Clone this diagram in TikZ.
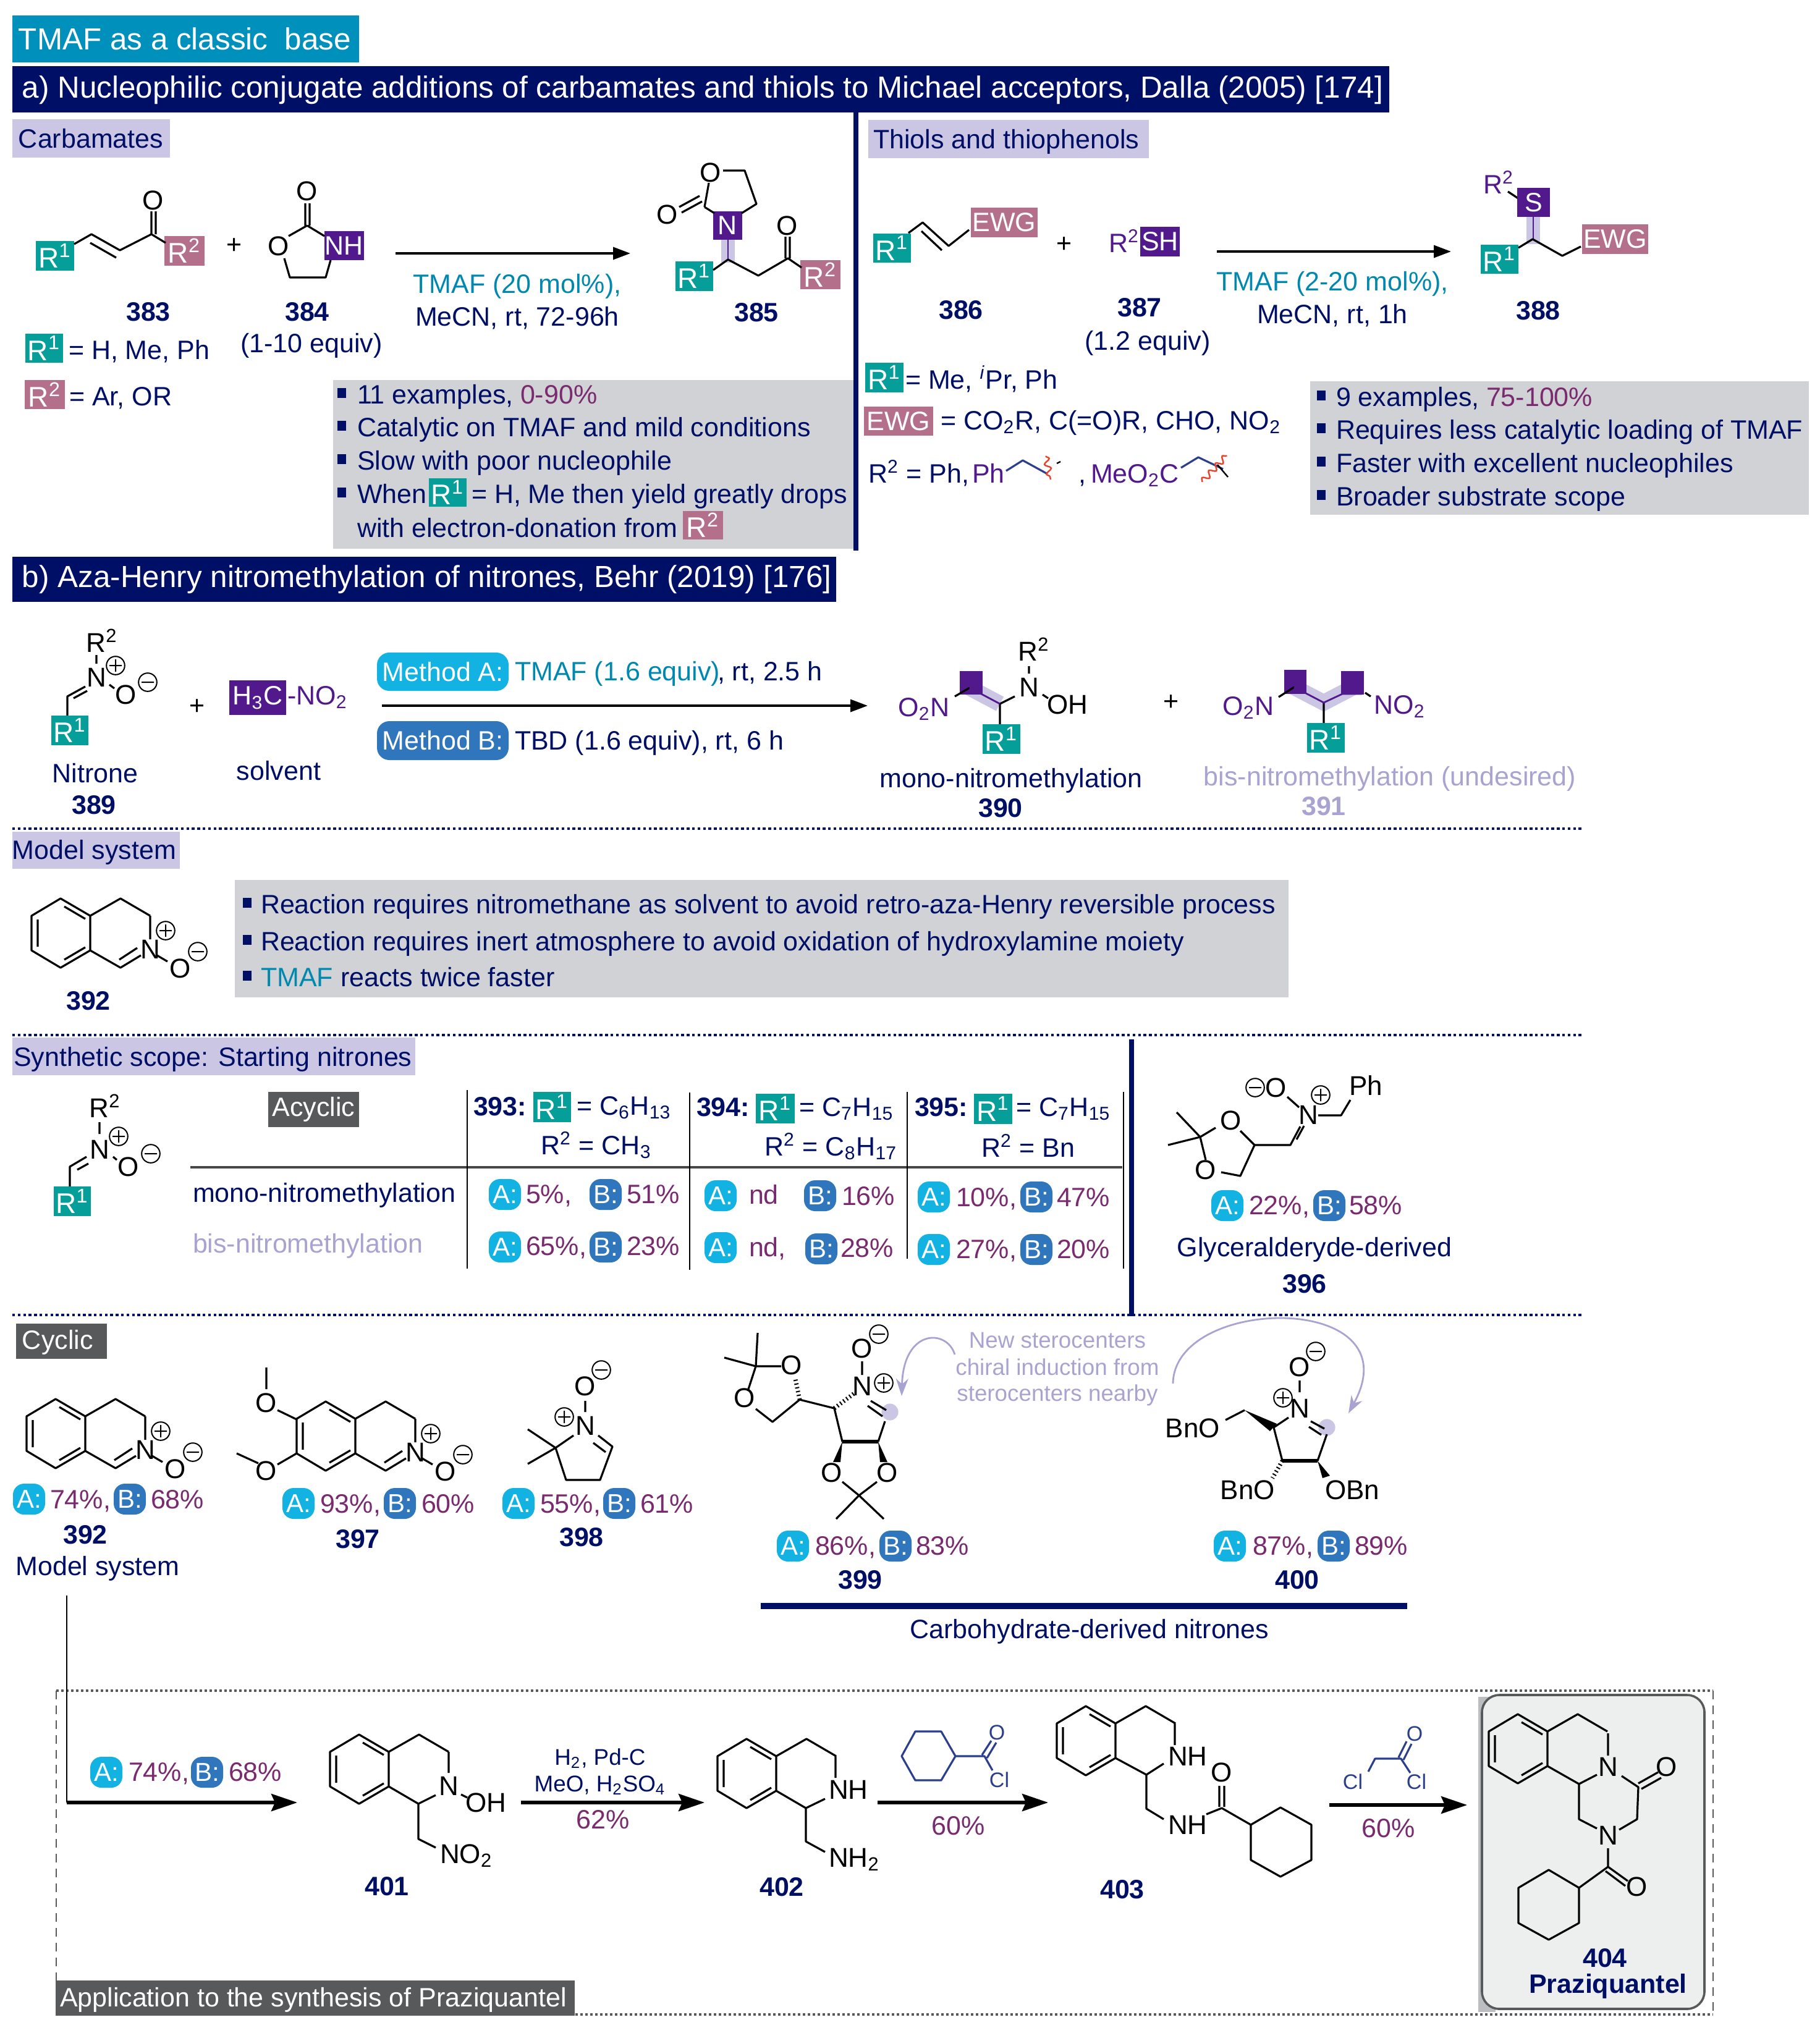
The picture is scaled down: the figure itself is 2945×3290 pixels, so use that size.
\documentclass[tikz,border=0pt]{standalone}
\usepackage{fontspec}
\setmainfont{Liberation Sans}
\usetikzlibrary{arrows.meta,decorations.pathmorphing}
\definecolor{nv}{HTML}{000F66}
\definecolor{tl}{HTML}{069E98}
\definecolor{mv}{HTML}{B4708A}
\definecolor{pu}{HTML}{51198C}
\definecolor{lv}{HTML}{CBC6E3}
\definecolor{gb}{HTML}{D0D2D5}
\definecolor{cyt}{HTML}{0090BC}
\definecolor{pa}{HTML}{12B2E2}
\definecolor{pb}{HTML}{2F76BC}
\definecolor{tm}{HTML}{0088AE}
\definecolor{yl}{HTML}{7A2A6E}
\definecolor{lb}{HTML}{A9A3D2}
\definecolor{dg}{HTML}{58595B}
\definecolor{bxg}{HTML}{EDEFEF}
\definecolor{rg}{HTML}{2B3F8C}
\definecolor{wv}{HTML}{E8432A}
\newcommand\ft{\fontsize{10.75pt}{13pt}\selectfont}
\newcommand\fa{\fontsize{11pt}{13pt}\selectfont}
\newcommand\fh{\fontsize{12.35pt}{14pt}\selectfont}
\newcommand\fb{\fontsize{10.75pt}{13pt}\selectfont\bfseries}
\newcommand\fs{\fontsize{8.5pt}{10pt}\selectfont}
\newcommand\fc{\fontsize{9.2pt}{11pt}\selectfont}
\newcounter{nn}
\tikzset{
 lab/.style={inner sep=0pt,outer sep=0pt,anchor=base,font=\ft,text=nv},
 wst/.style={anchor=base west},
 est/.style={anchor=base east},
 num/.style={font=\fb},
 atm/.style={text=black,font=\fa},
 tag/.style={inner sep=0pt,outer sep=0pt,text=white,font=\ft},
 bond/.style={line width=0.8pt,black,line join=round},
 rbond/.style={line width=0.8pt,rg,line join=round},
 rxn/.style={line width=0.9pt,black,-{Triangle[length=7pt,width=5pt]}},
 bigrxn/.style={line width=1.3pt,black,-{Stealth[length=10.5pt,width=7pt,inset=1.5pt]}},
 dotl/.style={line width=1pt,nv,dash pattern=on 1.1pt off 1.1pt},
 band/.style={line width=5.5pt,lv},
 pubond/.style={line width=0.7pt,pu},
 curv/.style={line width=0.7pt,lb,-{Stealth[length=7pt,width=5pt]}},
 wavy/.style={line width=0.6pt,wv,decorate,decoration={snake,amplitude=1.2pt,segment length=4pt}},
}
\newcommand\T[4][]{\stepcounter{nn}\node[lab,#1] (n\thenn) at (#2,#3) {#4};}
\newcommand\Tag[6][]{\pgfmathsetmacro\tcx{(#2+#4)/2}\pgfmathsetmacro\tcy{(#3+#5)/2}\pgfmathsetmacro\tagW{(#4-#2)*.25}\pgfmathsetmacro\tagH{(#5-#3)*.25}\stepcounter{nn}\node[tag,fill=#6,minimum width=\tagW pt,minimum height=\tagH pt,#1] (n\thenn) at (\tcx,\tcy) {\tagtext};}
\newcommand\tagtext{}
\newcommand\TG[7][]{\renewcommand\tagtext{#7}\Tag[#1]{#2}{#3}{#4}{#5}{#6}{}}
\newcommand\Ra{{\fontsize{11.5pt}{13pt}\selectfont R\textsuperscript{1}}}
\newcommand\Rc{{\fontsize{11.5pt}{13pt}\selectfont R\textsuperscript{2}}}
\newcommand\Rb{R\textsuperscript{2}}
\newcommand\sbs[1]{\textsubscript{#1}}
\newcommand\Ta[4]{\TG{#1}{#2}{#3}{#4}{tl}{\Ra}}
\newcommand\Tb[4]{\TG{#1}{#2}{#3}{#4}{mv}{\Rc}}
\newcommand\PA[2]{\stepcounter{nn}\node[tag,fill=pa,minimum width=13pt,minimum height=12.5pt,rounded corners=4.5pt,font=\fontsize{10.5pt}{12pt}\selectfont] (n\thenn) at (#1,#2) {A:};}
\newcommand\PB[2]{\stepcounter{nn}\node[tag,fill=pb,minimum width=13pt,minimum height=12.5pt,rounded corners=4.5pt,font=\fontsize{10.5pt}{12pt}\selectfont] (n\thenn) at (#1,#2) {B:};}
\newcommand\Y[3]{\T[wst,text=yl]{#1}{#2}{#3}}
\newcommand\Num[3]{\T[num]{#1}{#2}{#3}}
\newcommand\At[3]{\T[atm]{#1}{#2}{#3}}
\newcommand\bul[2]{\fill[nv] (#1,#2-25) rectangle (#1+14,#2-9);}
\newcommand\Pl[2]{\draw[line width=0.5pt,black] (#1,#2) circle[radius=3.7pt] (#1-10,#2)--(#1+10,#2) (#1,#2-10)--(#1,#2+10);}
\newcommand\Mi[2]{\draw[line width=0.5pt,black] (#1,#2) circle[radius=3.7pt] (#1-10,#2)--(#1+10,#2);}
\newcommand\thq[2]{\begin{scope}[shift={(#1,#2)}]
 \draw[bond] (-48,-28)--(0,0)--(0,56)--(-48,84)--(-95,56)--(-95,0)--cycle;
 \draw[bond] (-42,-15)--(-8,5) (-8,51)--(-42,71) (-85,6)--(-85,50);
 \draw[bond] (0,0)--(49,-28)--(97,0);
 \end{scope}}
\newcommand\nitiso[2]{\thq{#1}{#2}\begin{scope}[shift={(#1,#2)}]
 \draw[bond] (97,0)--(97,38) (0,56)--(49,84)--(82,64) (47,71)--(76,52) (108,64)--(125,74);
 \At{97}{69}{N}\At{146}{100}{O}\Pl{122}{24}\Mi{174}{58}
 \end{scope}}
\newcommand\hashb[4]{\draw[line width=1.7pt,black,dash pattern=on 0.5pt off 1.05pt] (#1,#2)--(#3,#4);}
\begin{document}
\begin{tikzpicture}[x=0.25pt,y=-0.25pt]
\useasboundingbox (0,0) rectangle (2945,3290);
% headers
\TG{20}{25}{581}{101}{cyt}{}
\T[wst,text=white,font=\fh]{30}{80}{TMAF as a classic\ \ base}
\TG{20}{107}{2248}{182}{nv}{}
\T[wst,text=white,font=\fh]{36}{158}{a) Nucleophilic conjugate additions of carbamates and thiols to Michael acceptors, Dalla (2005) [174]}
\TG{20}{193}{275}{255}{lv}{}
\T[wst]{30}{239}{Carbamates}
\draw[line width=2pt,nv] (1385,182)--(1385,891);
\TG{1405}{194}{1859}{256}{lv}{}
\T[wst]{1413}{240}{Thiols and thiophenols}
% 383
\Ta{58}{390}{120}{438}\Tb{266}{382}{331}{430}
\draw[bond] (120,395)--(148,379)--(194,405)--(245,379)--(268,393) (146,393)--(188,417) (245,379)--(245,342) (252,379)--(252,342);
\At{248}{339}{O}
\T[text=black]{379}{410}{+}
\Num{240}{519}{383}
% 384
\At{497}{324}{O}\At{451}{413}{O}
\TG{525}{374}{589}{421}{pu}{NH}
\draw[bond] (494,329)--(494,365) (501,329)--(501,365) (497,365)--(467,382) (497,365)--(525,382) (460,418)--(469,449)--(527,449)--(535,421);
\Num{497}{519}{384}
\T{504}{570}{(1-10 equiv)}
\coordinate (a1s) at (640,410);\coordinate (a1e) at (1020,410);
\draw[rxn] (a1s)--(a1e);
\T[text=tm]{837}{474}{TMAF (20 mol\%),}
\T{837}{527}{MeCN, rt, 72-96h}
% 385
\draw[band] (1178,388)--(1178,425);
\draw[pubond] (1178,388)--(1178,420);
\At{1150}{294}{O}\At{1080}{362}{O}
\TG{1154}{342}{1201}{388}{pu}{N}
\Ta{1093}{423}{1154}{471}\Tb{1295}{421}{1360}{468}
\draw[bond] (1170,276)--(1205,276)--(1224,330)--(1200,345) (1140,335)--(1147,296) (1140,335)--(1156,345) (1103,344)--(1136,326) (1099,335)--(1132,317);
\draw[bond] (1154,437)--(1178,420)--(1227,446)--(1275,418)--(1297,433) (1271,418)--(1271,383) (1278,418)--(1278,383);
\At{1274}{380}{O}
\Num{1224}{520}{385}
\TG{41}{540}{102}{587}{tl}{\Ra}
\T[wst]{111}{581}{= H, Me, Ph}
\TG{40}{615}{105}{662}{mv}{\Rc}
\T[wst]{112}{656}{= Ar, OR}
% gray 1
\TG{539}{615}{1381}{888}{gb}{}
\bul{546}{653}\bul{546}{706}\bul{546}{760}\bul{546}{814}
\T[wst]{578}{653}{11 examples,}
\Y{842}{653}{0-90\%}
\T[wst]{578}{706}{Catalytic on TMAF and mild conditions}
\T[wst]{578}{760}{Slow with poor nucleophile}
\T[wst]{578}{814}{When}
\TG{694}{774}{755}{820}{tl}{\Ra}
\T[wst]{763}{814}{= H, Me then yield greatly drops}
\T[wst]{578}{869}{with electron-donation from}
\TG{1105}{827}{1170}{873}{mv}{\Rc}
% 386
\TG{1413}{378}{1474}{425}{tl}{\Ra}
\TG{1571}{336}{1679}{384}{mv}{EWG}
\draw[bond] (1470,377)--(1493,360)--(1535,398)--(1568,372) (1491,374)--(1524,405);
\T[text=black]{1722}{408}{+}
\T[wst,text=pu]{1794}{408}{\Rb}
\TG{1845}{367}{1909}{415}{pu}{SH}
\coordinate (a2s) at (1969,407);\coordinate (a2e) at (2348,407);
\draw[rxn] (a2s)--(a2e);
\T[text=tm]{2156}{470}{TMAF (2-20 mol\%),}
\T{2156}{523}{MeCN, rt, 1h}
\Num{1555}{516}{386}\Num{1844}{512}{387}\T{1857}{566}{(1.2 equiv)}\Num{2489}{517}{388}
% 388
\draw[band] (2481,351)--(2481,395);
\draw[pubond] (2481,351)--(2481,387);
\T[text=pu]{2425}{313}{\Rb}
\draw[bond] (2440,310)--(2458,322);
\TG{2455}{304}{2508}{351}{pu}{S}
\TG{2396}{396}{2457}{443}{tl}{\Ra}
\TG{2560}{363}{2667}{411}{mv}{EWG}
\draw[bond] (2457,401)--(2480,387)--(2528,414)--(2558,399);
% legend thiols
\TG{1400}{587}{1462}{635}{tl}{\Ra}
\T[wst]{1465}{629}{= Me, \textsuperscript{\itshape i}Pr, Ph}
\TG{1398}{658}{1510}{705}{mv}{EWG}
\T[wst]{1522}{695}{= CO\sbs{2}R, C(=O)R, CHO, NO\sbs{2}}
\T[wst]{1405}{781}{\Rb\ = Ph,}
\T[wst,text=pu]{1573}{781}{Ph}
\draw[bond,rg] (1628,762)--(1655,745)--(1695,767);
\draw[wavy] (1692,738)--(1700,776);
\draw[line width=.6pt,black] (1710,750)--(1716,747);
\T[wst]{1745}{781}{,}
\T[wst,text=pu]{1765}{781}{MeO\sbs{2}C}
\draw[bond,rg] (1911,757)--(1939,740)--(1979,759);
\draw[wavy] (1945,780)--(1985,737);
\draw[line width=.6pt,black] (1970,752)--(1987,772);
% gray 2
\TG{2120}{617}{2927}{833}{gb}{}
\bul{2131}{657}\bul{2131}{710}\bul{2131}{764}\bul{2131}{818}
\T[wst]{2162}{657}{9 examples,}
\Y{2405}{657}{75-100\%}
\T[wst]{2162}{710}{Requires less catalytic loading of TMAF}
\T[wst]{2162}{764}{Faster with excellent nucleophiles}
\T[wst]{2162}{818}{Broader substrate scope}
% bar b
\TG{20}{901}{1353}{974}{nv}{}
\T[wst,text=white,font=\fh]{36}{950}{b) Aza-Henry nitromethylation of nitrones, Behr (2019) [176]}
% 389
\At{165}{1055}{\Rb}\At{156}{1111}{N}\At{204}{1139}{O}
\Pl{187}{1077}\Mi{239}{1104}
\draw[bond] (156,1060)--(156,1074) (177,1108)--(185,1114) (109,1159)--(109,1127)--(138,1111) (119,1130)--(141,1118);
\TG{83}{1158}{143}{1206}{tl}{\Ra}
\T[text=black]{319}{1156}{+}
\TG{371}{1101}{463}{1157}{pu}{H\sbs{3}C}
\T[wst,text=pu]{465}{1140}{-NO\sbs{2}}
\T{154}{1266}{Nitrone}\Num{152}{1317}{389}\T{451}{1262}{solvent}
\TG[rounded corners=5pt]{610}{1056}{823}{1118}{pa}{Method A:}
\T[wst,text=tm]{833}{1101}{TMAF (1.6 equiv)}
\T[wst]{1161}{1101}{, rt, 2.5 h}
\coordinate (a3s) at (618,1142);\coordinate (a3e) at (1404,1142);
\draw[rxn] (a3s)--(a3e);
\TG[rounded corners=5pt]{610}{1167}{823}{1230}{pb}{Method B:}
\T[wst]{833}{1213}{TBD (1.6 equiv), rt, 6 h}
% 390
\T[text=pu]{1495}{1159}{O\sbs{2}N}
\draw[band,line width=6.5pt] (1569,1113)--(1618,1139);
\fill[pu] (1553,1086) rectangle (1590,1124);
\draw[bond] (1545,1127)--(1569,1113) (1618,1139)--(1642,1127) (1618,1139)--(1618,1172) (1665,1078)--(1665,1090) (1687,1124)--(1696,1130);
\draw[pubond] (1569,1113)--(1618,1139);
\At{1665}{1127}{N}\At{1673}{1069}{\Rb}\At{1727}{1155}{OH}
\TG{1590}{1172}{1651}{1220}{tl}{\Ra}
\T[text=black]{1895}{1149}{+}
% 391
\T[text=pu]{2020}{1157}{O\sbs{2}N}
\draw[band,line width=6.5pt] (2094,1112)--(2142,1137)--(2190,1112);
\fill[pu] (2078,1084) rectangle (2114,1123);
\fill[pu] (2170,1086) rectangle (2207,1124);
\draw[bond] (2069,1128)--(2094,1112) (2142,1137)--(2142,1170) (2209,1121)--(2218,1127);
\draw[pubond] (2094,1112)--(2142,1137)--(2172,1123)--(2204,1123);
\T[text=pu]{2265}{1155}{NO\sbs{2}}
\TG{2115}{1170}{2176}{1218}{tl}{\Ra}
\T{1636}{1274}{mono-nitromethylation}\Num{1619}{1322}{390}
\T[text=lb]{2249}{1271}{bis-nitromethylation (undesired)}
\T[num,text=lb]{2142}{1319}{391}
% dashed
\coordinate (d1s) at (20,1341);\coordinate (d1e) at (2562,1341);
\coordinate (d2s) at (20,1675);\coordinate (d2e) at (2562,1675);
\coordinate (d3s) at (20,2128);\coordinate (d3e) at (2562,2128);
\draw[dotl] (d1s)--(d1e);\draw[dotl] (d2s)--(d2e);\draw[dotl] (d3s)--(d3e);
% model system
\TG{20}{1346}{291}{1406}{lv}{}
\T[wst]{20}{1390}{Model system}
\nitiso{146}{1482}
\Num{143}{1634}{392}
\TG{380}{1424}{2085}{1614}{gb}{}
\bul{393}{1478}\bul{393}{1538}\bul{393}{1596}
\T[wst]{422}{1478}{Reaction requires nitromethane as solvent to avoid retro-aza-Henry reversible process}
\T[wst]{422}{1538}{Reaction requires inert atmosphere to avoid oxidation of hydroxylamine moiety}
\T[wst,text=tm]{422}{1596}{TMAF}
\T[wst]{551}{1596}{reacts twice faster}
% scope
\TG{20}{1679}{672}{1740}{lv}{}
\T[wst]{22}{1725}{Synthetic scope: Starting nitrones}
\At{170}{1808}{\Rb}\At{161}{1875}{N}\At{208}{1903}{O}
\Pl{192}{1839}\Mi{244}{1867}
\draw[bond] (161,1816)--(161,1835) (183,1872)--(189,1877) (113,1920)--(113,1888)--(140,1872) (125,1893)--(143,1883);
\TG{87}{1920}{147}{1968}{tl}{\Ra}
\TG{434}{1767}{581}{1824}{dg}{Acyclic}
\coordinate (h1) at (308,1889);\coordinate (h2) at (1816,1889);
\draw[line width=1.2pt,dg!80!black] (h1)--(h2);
\draw[line width=0.7pt,black] (756,1764)--(756,2053) (1116,1768)--(1116,2055) (1468,1767)--(1468,2037) (1818,1767)--(1818,2053);
\draw[line width=1.8pt,nv] (1831,1682)--(1831,2130);
\T[wst]{312}{1945}{mono-nitromethylation}
\T[wst,text=lb]{312}{2027}{bis-nitromethylation}
\T[wst,num]{766}{1805}{393:}\TG{863}{1767}{924}{1816}{tl}{\Ra}
\T[wst]{933}{1804}{= C\sbs{6}H\sbs{13}}
\T[wst]{875}{1868}{\Rb\ = CH\sbs{3}}
\T[wst,num]{1127}{1806}{394:}\TG{1223}{1770}{1286}{1818}{tl}{\Ra}
\T[wst]{1293}{1806}{= C\sbs{7}H\sbs{15}}
\T[wst]{1237}{1870}{\Rb\ = C\sbs{8}H\sbs{17}}
\T[wst,num]{1480}{1806}{395:}\TG{1576}{1770}{1638}{1819}{tl}{\Ra}
\T[wst]{1644}{1806}{= C\sbs{7}H\sbs{15}}
\T[wst]{1588}{1872}{\Rb\ = Bn}
\PA{817}{1933}\Y{851}{1947}{5\%,}\PB{980}{1933}\Y{1014}{1947}{51\%}
\PA{817}{2018}\Y{851}{2031}{65\%,}\PB{980}{2018}\Y{1014}{2031}{23\%}
\PA{1166}{1935}\Y{1212}{1948}{nd}\PB{1327}{1935}\Y{1362}{1950}{16\%}
\PA{1166}{2019}\Y{1212}{2033}{nd,}\PB{1329}{2021}\Y{1360}{2034}{28\%}
\PA{1511}{1937}\Y{1547}{1952}{10\%,}\PB{1677}{1937}\Y{1710}{1952}{47\%}
\PA{1511}{2022}\Y{1547}{2036}{27\%,}\PB{1677}{2022}\Y{1710}{2036}{20\%}
% 396
\Mi{2031}{1760}\At{2065}{1775}{O}\At{2117}{1819}{N}\Pl{2137}{1772}\At{2210}{1772}{Ph}
\At{1992}{1828}{O}\At{1951}{1908}{O}
\draw[bond] (2083,1775)--(2102,1792) (2133,1805)--(2170,1805)--(2185,1780) (2030,1853)--(2088,1853)--(2104,1823) (2098,1844)--(2110,1822);
\draw[bond] (2030,1853)--(2007,1830) (1967,1825)--(1942,1840) (1904,1800)--(1942,1840)--(1890,1853) (1942,1840)--(1951,1877) (1976,1897)--(2007,1903)--(2030,1853);
\PA{1986}{1951}\Y{2021}{1965}{22\%,}\PB{2151}{1951}\Y{2183}{1965}{58\%}
\T{2127}{2033}{Glyceralderyde-derived}\Num{2111}{2092}{396}
% cyclic
\TG{26}{2142}{173}{2199}{dg}{}
\T[wst,text=white]{36}{2183}{Cyclic}
\nitiso{138}{2292}
\PA{47}{2426}\Y{81}{2441}{74\%,}\PB{210}{2426}\Y{244}{2441}{68\%}
\Num{138}{2498}{392}\T{158}{2549}{Model system}
% 397
\nitiso{575}{2296}
\At{431}{2285}{O}\At{431}{2395}{O}
\draw[bond] (431,2213)--(431,2248) (480,2297)--(449,2282) (383,2352)--(418,2368) (480,2352)--(449,2370);
\PA{483}{2433}\Y{518}{2448}{93\%,}\PB{647}{2433}\Y{682}{2448}{60\%}
\Num{579}{2505}{397}
% 398
\At{947}{2258}{O}\Mi{973}{2217}\At{947}{2322}{N}\Pl{913}{2293}
\draw[bond] (947,2267)--(947,2285) (968,2323)--(991,2341)--(971,2395)--(916,2395)--(899,2343)--(928,2323) (960,2335)--(980,2350) (899,2343)--(854,2313) (899,2343)--(854,2369);
\PA{839}{2433}\Y{874}{2448}{55\%,}\PB{1002}{2433}\Y{1036}{2448}{61\%}
\Num{941}{2502}{398}
% 399
\fill[lv] (1440,2285) circle[radius=3.4pt];
\At{1395}{2197}{O}\Mi{1422}{2159}\At{1395}{2258}{N}\Pl{1430}{2238}
\hashb{1350}{2279}{1382}{2255}
\draw[bond] (1409,2267)--(1434,2282) (1404,2275)--(1428,2292) (1395,2203)--(1395,2225) (1432,2300)--(1421,2333) (1363,2333)--(1350,2279);
\draw[bond,line width=1.3pt] (1421,2333)--(1363,2333);
\fill (1363,2333)--(1348,2366)--(1360,2366)--cycle (1421,2333)--(1424,2366)--(1436,2366)--cycle;
\At{1346}{2398}{O}\At{1436}{2398}{O}
\draw[bond] (1363,2398)--(1390,2420)--(1419,2398) (1353,2458)--(1390,2420)--(1430,2458);
\draw[bond] (1350,2279)--(1294,2265)--(1250,2301)--(1223,2280);
\hashb{1294}{2265}{1287}{2232}
\At{1205}{2277}{O}\At{1281}{2224}{O}
\draw[bond] (1264,2211)--(1223,2211)--(1210,2251) (1226,2157)--(1223,2211)--(1172,2197);
\coordinate (c1s) at (1545,2192);\coordinate (c1e) at (1459,2259);
\draw[curv] (c1s) .. controls (1532,2150) and (1462,2150) .. (c1e);
\T[text=lb,font=\fc]{1711}{2181}{New sterocenters}
\T[text=lb,font=\fc]{1711}{2225}{chiral induction from}
\T[text=lb,font=\fc]{1711}{2267}{sterocenters nearby}
\coordinate (c2s) at (1898,2239);\coordinate (c2e) at (2182,2287);
\draw[curv] (c2s) .. controls (1900,2095) and (2290,2090) .. (c2e);
% 400
\fill[lv] (2147,2310) circle[radius=3.4pt];
\At{2103}{2227}{O}\Mi{2129}{2187}\At{2103}{2294}{N}\Pl{2076}{2262}
\draw[bond] (2103,2234)--(2103,2253) (2121,2300)--(2143,2312) (2118,2309)--(2138,2322) (2147,2321)--(2132,2364) (2075,2364)--(2061,2310)--(2085,2294) (2014,2282)--(1983,2298);
\draw[bond,line width=1.3pt] (2132,2364)--(2075,2364);
\fill (2014,2282)--(2055,2316)--(2066,2304)--cycle (2132,2364)--(2140,2392)--(2152,2388)--cycle;
\hashb{2075}{2364}{2059}{2392}
\At{1930}{2326}{BnO}
\T[atm,est]{2063}{2426}{BnO}
\T[atm,wst]{2144}{2426}{OBn}
\PA{1283}{2502}\Y{1319}{2516}{86\%,}\PB{1449}{2502}\Y{1482}{2516}{83\%}
\Num{1392}{2571}{399}
\PA{1990}{2502}\Y{2027}{2516}{87\%,}\PB{2158}{2502}\Y{2192}{2516}{89\%}
\Num{2099}{2571}{400}
\TG{1231}{2594}{2277}{2604}{nv}{}
\T{1763}{2651}{Carbohydrate-derived nitrones}
% application frame
\draw[line width=.8pt,dg,dash pattern=on 1pt off 1pt] (91,2736)--(2772,2736) (91,3260)--(2772,3260);
\draw[line width=.6pt,dg,dash pattern=on 3.5pt off 2.5pt] (91,2736)--(91,3205) (2772,2736)--(2772,3260);
\TG{90}{3205}{930}{3262}{dg}{}
\T[wst,text=white]{97}{3247}{Application to the synthesis of Praziquantel}
\coordinate (m1) at (108,2582);\coordinate (m2) at (108,2917);\coordinate (m3) at (481,2917);
\draw[line width=.6pt,black] (m1)--(m2);
\draw[bigrxn] (m2)--(m3);
\PA{172}{2868}\Y{208}{2882}{74\%,}\PB{335}{2868}\Y{370}{2882}{68\%}
% 401
\thq{629}{2835}
\draw[bond] (726,2835)--(726,2869) (629,2891)--(677,2919)--(705,2905) (677,2919)--(677,2976)--(705,2990) (746,2904)--(756,2909);
\At{726}{2905}{N}\At{786}{2932}{OH}
\T[atm,wst]{712}{3015}{NO\sbs{2}}
\Num{626}{3067}{401}
\coordinate (b1) at (843,2917);\coordinate (b2) at (1140,2917);
\draw[bigrxn] (b1)--(b2);
\T[font=\fc]{971}{2856}{H\sbs{2}, Pd-C}\T[font=\fc]{971}{2899}{MeO, H\sbs{2}SO\sbs{4}}
\T[text=yl]{976}{2959}{62\%}
% 402
\thq{1256}{2842}
\draw[bond] (1352,2842)--(1352,2877) (1256,2898)--(1304,2926)--(1335,2911) (1304,2926)--(1304,2980)--(1335,2997);
\T[atm,wst]{1341}{2911}{NH}\T[atm,wst]{1341}{3021}{NH\sbs{2}}
\Num{1265}{3068}{402}
\coordinate (b3) at (1420,2917);\coordinate (b4) at (1696,2917);
\draw[bigrxn] (b3)--(b4);
\draw[rbond] (1481,2802)--(1523,2802)--(1546,2842)--(1523,2881)--(1481,2881)--(1459,2842)--cycle (1546,2842)--(1593,2842)--(1606,2865) (1589,2840)--(1604,2817) (1597,2845)--(1612,2820);
\T[font=\fs,text=rg]{1613}{2815}{O}\T[font=\fs,text=rg]{1617}{2892}{Cl}
\T[text=yl]{1551}{2969}{60\%}
% 403
\thq{1805}{2789}
\draw[bond] (1901,2789)--(1901,2824) (1805,2845)--(1855,2872)--(1883,2854) (1855,2872)--(1855,2927)--(1883,2944) (1952,2936)--(1977,2926)--(2024,2953) (1973,2890)--(1973,2924) (1981,2890)--(1981,2924);
\draw[bond] (2024,2953)--(2072,2925)--(2122,2953)--(2122,3010)--(2072,3037)--(2024,3010)--cycle;
\T[atm,wst]{1890}{2857}{NH}\T[atm,wst]{1890}{2968}{NH}\At{1977}{2883}{O}
\Num{1816}{3072}{403}
\coordinate (b5) at (2151,2921);\coordinate (b6) at (2374,2921);
\draw[bigrxn] (b5)--(b6);
\T[text=yl]{2247}{2973}{60\%}
\draw[rbond] (2214,2867)--(2225,2846)--(2267,2846)--(2282,2869) (2263,2844)--(2276,2818) (2271,2848)--(2284,2822);
\T[font=\fs,text=rg]{2189}{2895}{Cl}\T[font=\fs,text=rg]{2292}{2895}{Cl}\T[font=\fs,text=rg]{2289}{2817}{O}
% 404
\fill[gb!90!black] (2392,2746) rectangle (2420,3256);
\stepcounter{nn}\node[draw=dg,line width=.9pt,fill=bxg,rounded corners=7pt,minimum width=90pt,minimum height=127pt,inner sep=0pt] (n\thenn) at (2578,2997) {};
\thq{2504}{2802}
\draw[bond] (2602,2805)--(2602,2841) (2504,2858)--(2555,2887)--(2584,2872) (2624,2874)--(2651,2892)--(2649,2944)--(2620,2961) (2584,2959)--(2555,2944)--(2555,2887);
\draw[bond] (2651,2886)--(2683,2868) (2656,2895)--(2688,2877);
\draw[bond] (2602,2991)--(2602,3021)--(2555,3055) (2602,3021)--(2634,3044) (2598,3028)--(2630,3052);
\draw[bond] (2555,3055)--(2506,3026)--(2457,3055)--(2457,3112)--(2506,3139)--(2555,3112)--cycle;
\At{2602}{2874}{N}\At{2697}{2874}{O}\At{2602}{2985}{N}\At{2649}{3068}{O}
\Num{2597}{3183}{404}\Num{2602}{3225}{Praziquantel}
\end{tikzpicture}
\end{document}
